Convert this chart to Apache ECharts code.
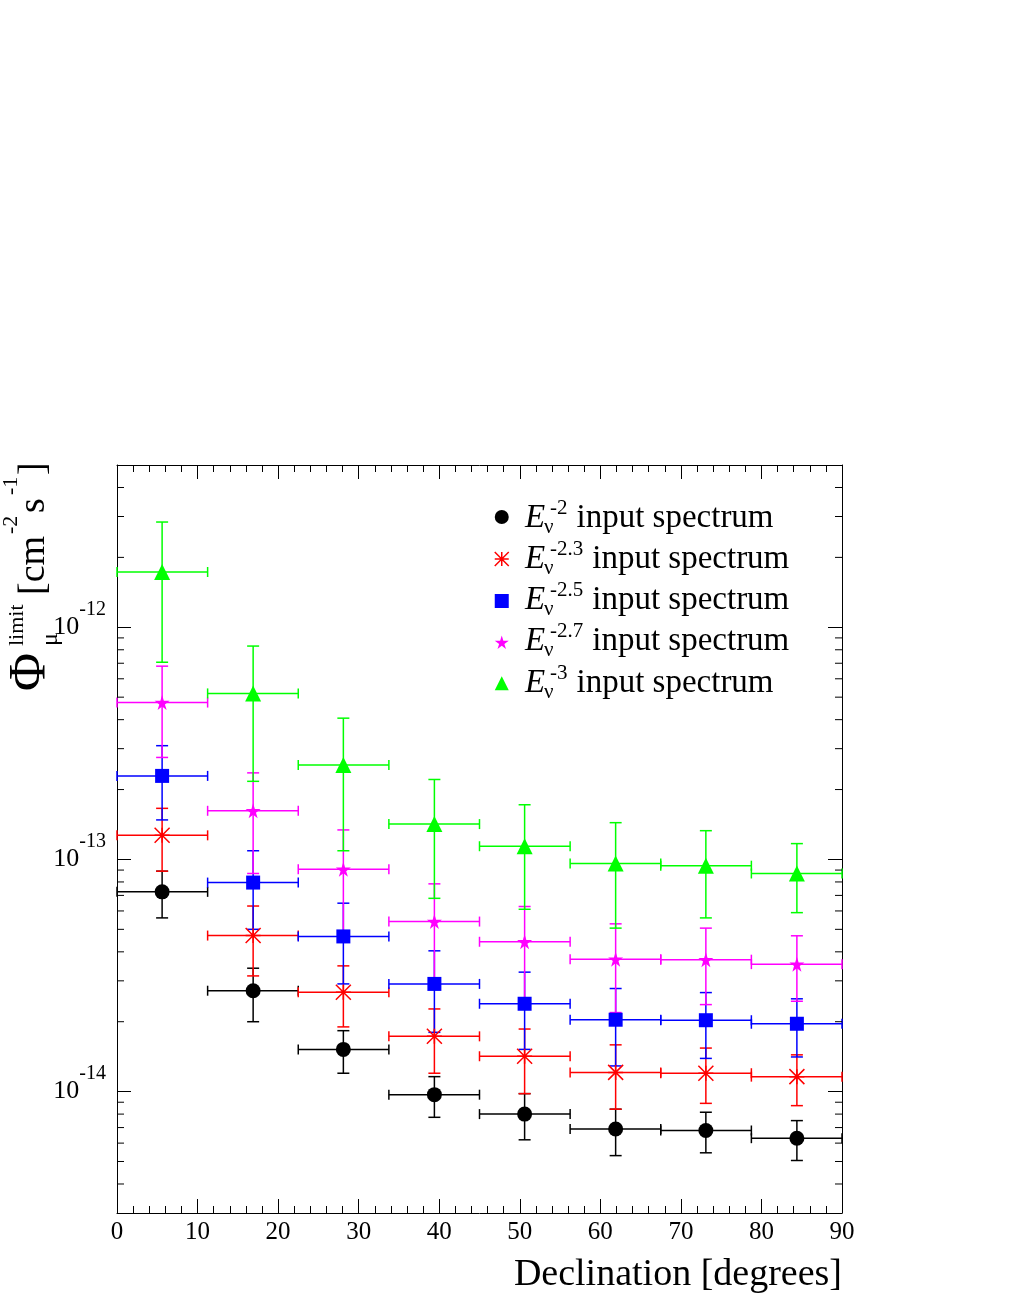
<!DOCTYPE html>
<html><head><meta charset="utf-8">
<script src="https://cdn.jsdelivr.net/npm/echarts@6/dist/echarts.min.js"></script>
<style>html,body{margin:0;padding:0;background:#fff}#c{width:1010px;height:1307px}</style>
</head><body><div id="c"></div>
<script>
// ---- data ----
const binEdges = [0, 11.25, 22.5, 33.75, 45, 56.25, 67.5, 78.75, 90];
const binCenters = [5.6, 16.9, 28.1, 39.4, 50.6, 61.9, 73.1, 84.4];
const spectralIndex = ['-2', '-2.3', '-2.5', '-2.7', '-3'];

const blackVal  = [7.25e-14, 2.72e-14, 1.52e-14, 9.7e-15, 8.0e-15, 6.9e-15, 6.8e-15, 6.3e-15];
const blackLow  = [5.6e-14, 2.0e-14, 1.2e-14, 7.75e-15, 6.2e-15, 5.3e-15, 5.45e-15, 5.05e-15];
const blackHigh = [8.9e-14, 3.4e-14, 1.83e-14, 1.16e-14, 9.8e-15, 8.4e-15, 8.15e-15, 7.5e-15];

const redVal  = [1.27e-13, 4.7e-14, 2.68e-14, 1.73e-14, 1.42e-14, 1.21e-14, 1.2e-14, 1.16e-14];
const redLow  = [8.9e-14, 3.15e-14, 1.9e-14, 1.2e-14, 9.8e-15, 8.4e-15, 8.9e-15, 8.7e-15];
const redHigh = [1.66e-13, 6.3e-14, 3.48e-14, 2.27e-14, 1.86e-14, 1.59e-14, 1.54e-14, 1.44e-14];

const blueVal  = [2.29e-13, 7.95e-14, 4.66e-14, 2.91e-14, 2.39e-14, 2.04e-14, 2.03e-14, 1.96e-14];
const blueLow  = [1.48e-13, 5.0e-14, 2.91e-14, 1.8e-14, 1.52e-14, 1.29e-14, 1.39e-14, 1.41e-14];
const blueHigh = [3.09e-13, 1.09e-13, 6.48e-14, 4.04e-14, 3.27e-14, 2.78e-14, 2.67e-14, 2.51e-14];

const magentaVal  = [4.74e-13, 1.62e-13, 9.07e-14, 5.4e-14, 4.42e-14, 3.72e-14, 3.7e-14, 3.54e-14];
const magentaLow  = [2.75e-13, 8.7e-14, 4.84e-14, 3.0e-14, 2.5e-14, 2.19e-14, 2.37e-14, 2.45e-14];
const magentaHigh = [6.8e-13, 2.36e-13, 1.34e-13, 7.85e-14, 6.27e-14, 5.28e-14, 5.06e-14, 4.69e-14];

const greenVal  = [1.73e-12, 5.19e-13, 2.55e-13, 1.42e-13, 1.14e-13, 9.6e-14, 9.4e-14, 8.7e-14];
const greenLow  = [7.07e-13, 2.17e-13, 1.09e-13, 6.8e-14, 6.1e-14, 5.06e-14, 5.6e-14, 5.9e-14];
const greenHigh = [2.84e-12, 8.3e-13, 4.06e-13, 2.21e-13, 1.72e-13, 1.44e-13, 1.33e-13, 1.17e-13];

const yMin = 3e-15, yMax = 5e-12;

// ---- chart ----
const FONT = 'Liberation Serif';
const chart = echarts.init(document.getElementById('c'));

const yMinorTicks = [];
for (let e = -15; e <= -12; e++) {
  for (let m = 2; m <= 9; m++) {
    const v = m * Math.pow(10, e);
    if (v > yMin * 1.001 && v < yMax * 0.999) yMinorTicks.push(v);
  }
}

const starPath = 'path://M50,0 L61,35 L98,35 L68,57 L79,91 L50,70 L21,91 L32,57 L2,35 L39,35 Z';
const asteriskPath = 'path://M0,0L10,10M10,0L0,10M5,0L5,10M0,5L10,5';

const groups = [
  {key: 'E-2',   color: '#000000', val: blackVal,   lo: blackLow,   hi: blackHigh,   symbol: 'circle',     size: 15},
  {key: 'E-2.3', color: '#ff0000', val: redVal,     lo: redLow,     hi: redHigh,     symbol: asteriskPath, size: 15},
  {key: 'E-2.5', color: '#0000ff', val: blueVal,    lo: blueLow,    hi: blueHigh,    symbol: 'rect',       size: 14},
  {key: 'E-2.7', color: '#ff00ff', val: magentaVal, lo: magentaLow, hi: magentaHigh, symbol: starPath,     size: 15},
  {key: 'E-3',   color: '#00ff00', val: greenVal,   lo: greenLow,   hi: greenHigh,   symbol: 'triangle',   size: 16}
];

function errRender(color) {
  return function (params, api) {
    const xc = api.value(0), y = api.value(1);
    const pl = api.coord([api.value(2), y]), ph = api.coord([api.value(3), y]);
    const pb = api.coord([xc, api.value(4)]), pt = api.coord([xc, api.value(5)]);
    const st = {stroke: color, lineWidth: 1.5};
    const cw = 6, ch = 5;
    const L = (x1, y1, x2, y2) => ({type: 'line', shape: {x1, y1, x2, y2}, style: st});
    return {type: 'group', children: [
      L(pl[0], pl[1], ph[0], ph[1]),
      L(pl[0], pl[1] - ch, pl[0], pl[1] + ch),
      L(ph[0], ph[1] - ch, ph[0], ph[1] + ch),
      L(pb[0], pb[1], pt[0], pt[1]),
      L(pb[0] - cw, pb[1], pb[0] + cw, pb[1]),
      L(pt[0] - cw, pt[1], pt[0] + cw, pt[1])
    ]};
  };
}

const series = [];
groups.forEach(g => {
  series.push({
    type: 'custom', name: g.key + ' err', silent: true,
    renderItem: errRender(g.color),
    encode: {x: [0, 2, 3], y: [1, 4, 5]},
    data: g.val.map((v, i) => [binCenters[i], v, binEdges[i], binEdges[i + 1], g.lo[i], g.hi[i]])
  });
  series.push({
    type: 'scatter', name: g.key, symbol: g.symbol, symbolSize: g.size, silent: true,
    itemStyle: {color: g.color, borderColor: g.color, borderWidth: g.symbol === asteriskPath ? 1.5 : 0, opacity: 1},
    data: g.val.map((v, i) => [binCenters[i], v])
  });
});

// minor log ticks on left and right frame
series.push({
  type: 'custom', name: 'minorTicks', silent: true,
  renderItem: function (params, api) {
    const v = api.value(1);
    const l = api.coord([0, v]), r = api.coord([90, v]);
    const st = {stroke: '#000', lineWidth: 1};
    return {type: 'group', children: [
      {type: 'line', shape: {x1: l[0], y1: l[1], x2: l[0] + 7, y2: l[1]}, style: st},
      {type: 'line', shape: {x1: r[0], y1: r[1], x2: r[0] - 7, y2: r[1]}, style: st}
    ]};
  },
  encode: {x: 0, y: 1},
  data: yMinorTicks.map(v => [0, v])
});

const logLabel = v => {
  const lg = Math.log10(v);
  const e = Math.round(lg);
  if (Math.abs(lg - e) > 1e-6) return '';
  return '{b|10}{s|' + e + '}';
};

// text measuring for graphic layout
const mctx = document.createElement('canvas').getContext('2d');
function tw(text, font) { mctx.font = font; return mctx.measureText(text).width; }

const graphics = [];
// legend texts
groups.forEach((g, i) => {
  const cy = 518 + i * 41.25;
  const fMain = '33px "' + FONT + '"';
  const fSmall = '21px "' + FONT + '"';
  graphics.push({type: 'text', x: 525, y: cy, silent: true,
    style: {text: 'E', font: 'italic ' + fMain, fill: '#000', verticalAlign: 'middle', align: 'left'}});
  graphics.push({type: 'text', x: 544, y: cy + 9, silent: true,
    style: {text: 'ν', font: fSmall, fill: '#000', verticalAlign: 'middle', align: 'left'}});
  graphics.push({type: 'text', x: 550, y: cy - 10, silent: true,
    style: {text: spectralIndex[i], font: fSmall, fill: '#000', verticalAlign: 'middle', align: 'left'}});
  const sx = 550 + tw(spectralIndex[i], fSmall) + 9;
  graphics.push({type: 'text', x: sx, y: cy, silent: true,
    style: {text: 'input spectrum', font: fMain, fill: '#000', verticalAlign: 'middle', align: 'left'}});
});
// x axis title
graphics.push({type: 'text', x: 842, y: 1275, silent: true,
  style: {text: 'Declination [degrees]', font: '38px "' + FONT + '"', fill: '#000', align: 'right', verticalAlign: 'middle'}});
// y axis title (rotated)
const yt = (text, x, y, size) => ({type: 'text', x: x, y: y, silent: true,
  style: {text: text, font: size + 'px "' + FONT + '"', fill: '#000', align: 'left', verticalAlign: 'middle'}});
graphics.push({type: 'group', x: 47, y: 691, rotation: Math.PI / 2, silent: true, children: [
  yt('Φ', 0, -16, 52),
  yt('μ', 45, 4, 24),
  yt('limit', 45, -30, 22),
  yt('[cm', 96, -13, 38),
  yt('-2', 157, -36, 22),
  yt('s', 178, -13, 38),
  yt('-1', 196, -36, 22),
  yt(']', 216, -13, 38)
]});

const axisCommonX = {
  type: 'value', min: 0, max: 90, interval: 10,
  axisLine: {show: true, onZero: false, lineStyle: {color: '#000', width: 1}},
  axisTick: {show: true, inside: true, length: 14, lineStyle: {color: '#000', width: 1}},
  minorTick: {show: true, splitNumber: 5, length: 7, lineStyle: {color: '#000', width: 1}},
  splitLine: {show: false}, minorSplitLine: {show: false}
};
const axisCommonY = {
  type: 'log', logBase: 10, min: yMin, max: yMax,
  axisLine: {show: true, onZero: false, lineStyle: {color: '#000', width: 1}},
  axisTick: {show: true, inside: true, length: 14, lineStyle: {color: '#000', width: 1}},
  splitLine: {show: false}
};

chart.setOption({
  backgroundColor: '#ffffff',
  animation: false,
  grid: {left: 117, right: 168, top: 465, bottom: 94, show: false},
  xAxis: [
    Object.assign({}, axisCommonX, {position: 'bottom',
      axisLabel: {show: true, fontFamily: FONT, fontSize: 25, color: '#000', margin: 7}}),
    Object.assign({}, axisCommonX, {position: 'top', axisLabel: {show: false}})
  ],
  yAxis: [
    Object.assign({}, axisCommonY, {position: 'left',
      axisLabel: {show: true, formatter: logLabel, margin: 11, color: '#000',
        rich: {
          b: {fontFamily: FONT, fontSize: 26, color: '#000', padding: [15, 0, 15, 0]},
          s: {fontFamily: FONT, fontSize: 20, color: '#000', verticalAlign: 'top'}
        }}}),
    Object.assign({}, axisCommonY, {position: 'right', axisLabel: {show: false}})
  ],
  legend: {
    orient: 'vertical', left: 494, top: 510, padding: 0, itemWidth: 14, itemHeight: 14, itemGap: 27.25,
    data: groups.map(g => g.key), formatter: () => '', selectedMode: false,
    itemStyle: {borderWidth: 'inherit'},
    textStyle: {fontSize: 1}
  },
  graphic: graphics,
  series: series
});
</script>
</body></html>
